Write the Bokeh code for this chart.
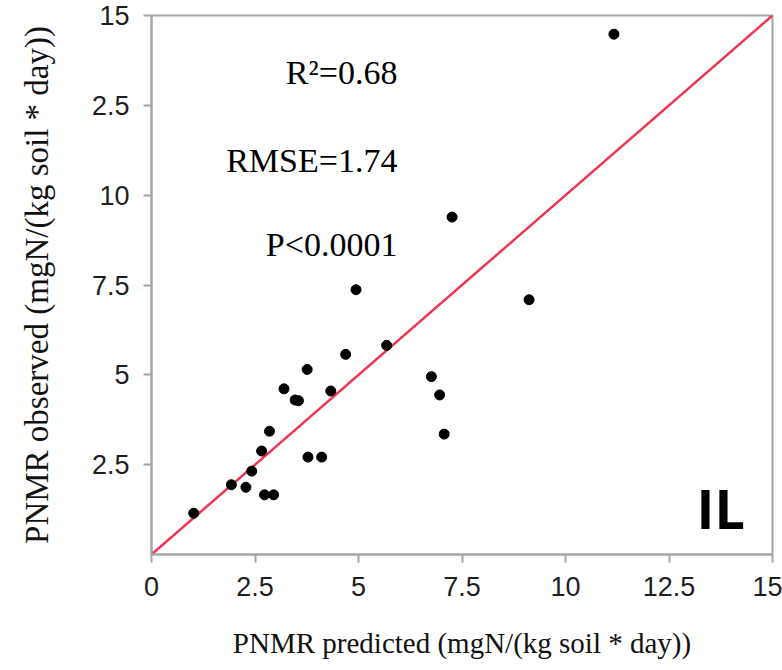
from bokeh.plotting import figure
from bokeh.models import Range1d, FixedTicker, Label
from bokeh.embed import file_html
from bokeh.resources import INLINE

# Data
predicted = [1.02, 1.93, 2.28, 2.42, 2.66, 2.85, 2.73, 2.95, 3.20, 3.47, 3.55,
             3.76, 3.78, 4.11, 4.33, 4.69, 4.94, 5.68, 6.76, 6.96, 7.07, 7.26,
             9.12, 11.17]
observed = [1.15, 1.94, 1.87, 2.32, 2.88, 3.43, 1.66, 1.66, 4.61, 4.30, 4.28,
            5.15, 2.71, 2.71, 4.55, 5.57, 7.37, 5.82, 4.95, 4.44, 3.35, 9.39,
            7.09, 14.48]
one_to_one = [0, 15]
x_ticks = [0, 2.5, 5, 7.5, 10, 12.5, 15]
y_ticks = [2.5, 5, 7.5, 10, 12.5, 15]
x_tick_labels = {0: "0", 2.5: "2.5", 5: "5", 7.5: "7.5", 10: "10", 12.5: "12.5", 15: "15"}
y_tick_labels = {2.5: "2.5", 5: "5", 7.5: "7.5", 10: "10", 12.5: "2.5", 15: "15"}
stats_text = ["R\u00b2=0.68", "RMSE=1.74", "P<0.0001"]
panel_text = "IL"

p = figure(width=782, height=670, output_backend="svg", toolbar_location=None,
           x_range=Range1d(0, 15), y_range=Range1d(0, 15),
           min_border_left=151, min_border_right=10, min_border_top=15,
           min_border_bottom=116)
p.background_fill_color = "white"
p.border_fill_color = "white"
p.outline_line_color = "#a6a6a6"
p.outline_line_width = 2
p.grid.visible = False

for ax, ticks, labels in ((p.xaxis[0], x_ticks, x_tick_labels), (p.yaxis[0], y_ticks, y_tick_labels)):
    ax.ticker = FixedTicker(ticks=ticks, minor_ticks=[])
    ax.major_label_overrides = labels
    ax.axis_line_color = "#a6a6a6"
    ax.axis_line_width = 2
    ax.major_tick_line_color = "#a6a6a6"
    ax.major_tick_line_width = 2
    ax.major_tick_out = 8
    ax.major_tick_in = 0
    ax.minor_tick_out = 0
    ax.major_label_text_font = "Liberation Sans"
    ax.major_label_text_font_size = "27px"
    ax.major_label_text_color = "#1e1e1e"
    ax.axis_label_text_font = "Liberation Serif"
    ax.axis_label_text_font_style = "normal"
    ax.axis_label_text_color = "#111111"

p.xaxis.major_label_standoff = 14
p.yaxis.major_label_standoff = 14
p.xaxis.axis_label = "PNMR predicted (mgN/(kg soil * day))"
p.yaxis.axis_label = "PNMR observed (mgN/(kg soil * day))"
p.xaxis.axis_label_text_font_size = "29px"
p.yaxis.axis_label_text_font_size = "33px"
p.xaxis.axis_label_standoff = 28
p.yaxis.axis_label_standoff = 34

p.line(one_to_one, one_to_one, line_color="#f0364f", line_width=2.5)
p.scatter(predicted, observed, size=10, fill_color="black", line_color="black")

ys = [13.41, 10.97, 8.63]
for t, yv in zip(stats_text, ys):
    p.add_layout(Label(x=5.94, y=yv, text=t, text_align="right", text_baseline="alphabetic",
                       text_font="Liberation Serif", text_font_size="34px", text_color="black"))

p.add_layout(Label(x=13.75, y=1.3, text=panel_text, text_align="center", text_baseline="alphabetic",
                   text_font="Open Sans", text_font_style="bold", text_font_size="54px",
                   text_color="black"))

open("out.html", "w").write(file_html(p, INLINE))
